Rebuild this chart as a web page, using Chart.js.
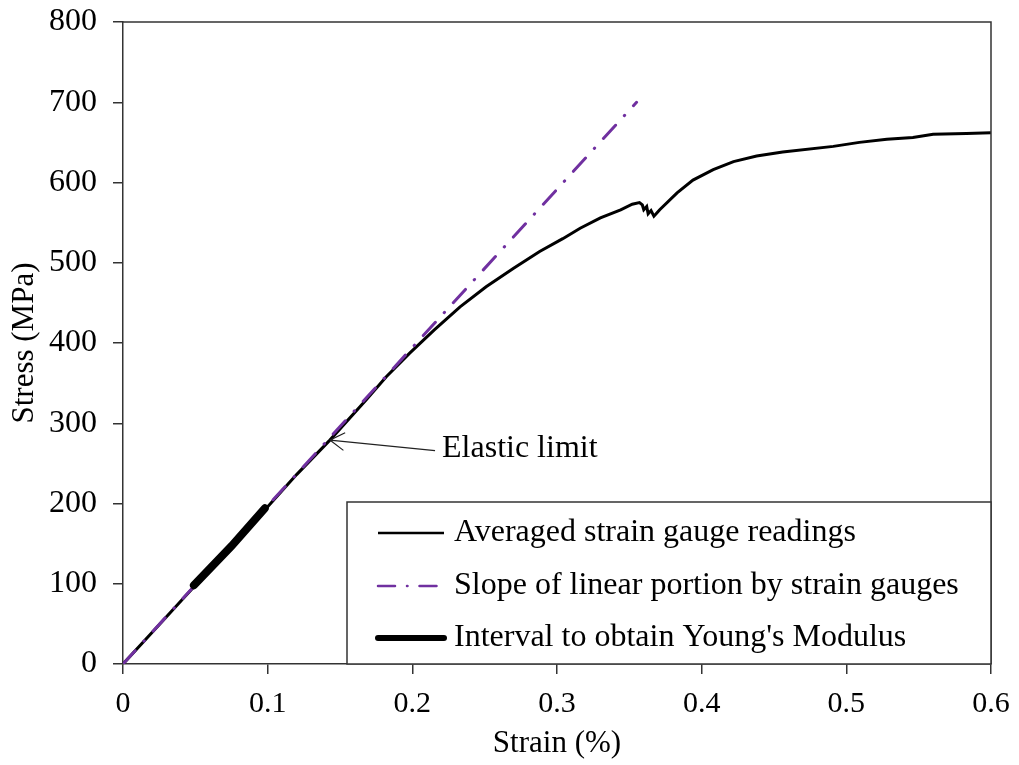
<!DOCTYPE html>
<html>
<head>
<meta charset="utf-8">
<script src="https://cdn.jsdelivr.net/npm/chart.js@4.4.3/dist/chart.umd.min.js"></script>
<style>
  html, body { margin: 0; padding: 0; background: #fff; }
  #wrap { width: 1019px; height: 765px; }
</style>
</head>
<body>
<div id="wrap"><canvas id="stressChart" width="1019" height="765"></canvas></div>
<script>
// strain (%) vs stress (MPa)
const avgStrain = [0, 0.025, 0.05, 0.075, 0.1, 0.12, 0.143, 0.168, 0.182, 0.198, 0.215, 0.233, 0.251, 0.270,
  0.288, 0.304, 0.316, 0.330, 0.344, 0.352, 0.357, 0.359, 0.360, 0.362, 0.363, 0.365, 0.367, 0.369, 0.371,
  0.383, 0.394, 0.408, 0.422, 0.438, 0.456, 0.491, 0.509, 0.528, 0.546, 0.560, 0.583, 0.600];
const avgStress = [0, 49, 98, 147, 196, 236, 279, 329, 358, 387, 416, 445, 470, 493,
  514, 530, 543, 556, 566, 573, 575, 572, 566, 570, 561, 565, 558, 562, 566,
  587, 603, 616, 626, 633, 638, 645, 650, 654, 656, 660, 661, 662];

const slopeStrain = [0, 0.355];
const slopeStress = [0, 700];

const youngStrain = [0.049, 0.075, 0.098];
const youngStress = [98, 147, 194];

const xTicks = [0, 0.1, 0.2, 0.3, 0.4, 0.5, 0.6];
const yTicks = [0, 100, 200, 300, 400, 500, 600, 700, 800];

const elasticLimit = { x: 0.143, y: 279, label: 'Elastic limit' };

const FONT = "'Liberation Serif', 'Times New Roman', serif";
const AXIS = '#333';

function pts(xs, ys) {
  return xs.map((x, i) => ({ x, y: ys[i] }));
}

// frame + arrow note + boxed legend
const extras = {
  id: 'extras',
  afterDraw(chart) {
    const { ctx, chartArea, scales } = chart;
    ctx.save();
    ctx.strokeStyle = AXIS;
    ctx.lineWidth = 1.5;
    ctx.beginPath();
    ctx.moveTo(chartArea.left, chartArea.top);
    ctx.lineTo(chartArea.right, chartArea.top);
    ctx.lineTo(chartArea.right, chartArea.bottom);
    ctx.stroke();

    // elastic limit arrow
    const tx = scales.x.getPixelForValue(elasticLimit.x);
    const ty = scales.y.getPixelForValue(elasticLimit.y);
    const lx = scales.x.getPixelForValue(0.2157);
    const ly = scales.y.getPixelForValue(266);
    ctx.strokeStyle = '#222';
    ctx.lineWidth = 1.2;
    ctx.beginPath();
    ctx.moveTo(lx, ly);
    ctx.lineTo(tx, ty);
    const ang = Math.atan2(ly - ty, lx - tx);
    for (const d of [-0.55, 0.55]) {
      ctx.moveTo(tx, ty);
      ctx.lineTo(tx + 17 * Math.cos(ang + d), ty + 17 * Math.sin(ang + d));
    }
    ctx.stroke();
    ctx.fillStyle = '#000';
    ctx.font = '32px ' + FONT;
    ctx.textBaseline = 'middle';
    ctx.textAlign = 'left';
    ctx.fillText(elasticLimit.label, lx + 7, ly - 2);

    // legend box
    const bx = chartArea.right - 644, by = chartArea.bottom - 162;
    ctx.fillStyle = '#fff';
    ctx.fillRect(bx, by, chartArea.right - bx, chartArea.bottom - by);
    ctx.strokeStyle = AXIS;
    ctx.lineWidth = 1.5;
    ctx.strokeRect(bx, by, chartArea.right - bx, chartArea.bottom - by);
    const rows = [31, 84, 136];
    chart.data.datasets.forEach((ds, i) => {
      const y = by + rows[i];
      ctx.beginPath();
      ctx.strokeStyle = ds.borderColor;
      ctx.lineWidth = ds.legendWidth;
      ctx.lineCap = ds.borderCapStyle || 'butt';
      ctx.setLineDash(ds.legendDash || []);
      ctx.moveTo(bx + 31, y);
      ctx.lineTo(bx + 97, y);
      ctx.stroke();
      ctx.setLineDash([]);
      ctx.fillStyle = '#000';
      ctx.font = '32px ' + FONT;
      ctx.textBaseline = 'middle';
      ctx.fillText(ds.label, bx + 107, y);
    });
    ctx.restore();
  }
};

new Chart(document.getElementById('stressChart'), {
  type: 'scatter',
  data: {
    datasets: [
      {
        label: 'Averaged strain gauge readings',
        data: pts(avgStrain, avgStress),
        showLine: true,
        borderColor: '#000',
        borderWidth: 3,
        legendWidth: 2.5,
        pointRadius: 0,
        order: 3
      },
      {
        label: 'Slope of linear portion by strain gauges',
        data: pts(slopeStrain, slopeStress),
        showLine: true,
        borderColor: '#7030a0',
        borderWidth: 3,
        legendWidth: 2.5,
        borderCapStyle: 'round',
        borderDash: [18, 13, 0.5, 13],
        legendDash: [17, 12, 0.5, 12],
        pointRadius: 0,
        order: 2
      },
      {
        label: "Interval to obtain Young's Modulus",
        data: pts(youngStrain, youngStress),
        showLine: true,
        borderColor: '#000',
        borderWidth: 8,
        legendWidth: 6,
        borderCapStyle: 'round',
        pointRadius: 0,
        order: 1
      }
    ]
  },
  options: {
    responsive: false,
    animation: false,
    layout: { padding: { top: 22, right: 28, left: 0, bottom: 0 } },
    plugins: {
      legend: { display: false },
      tooltip: { enabled: false }
    },
    scales: {
      x: {
        type: 'linear',
        min: 0,
        max: 0.6,
        afterBuildTicks: s => { s.ticks = xTicks.map(v => ({ value: v })); },
        afterFit: s => { s.height = 101; s.paddingLeft = 0; s.paddingRight = 0; },
        ticks: {
          color: '#000',
          font: { family: FONT, size: 30 },
          padding: 12,
          callback: v => String(Number(v.toFixed(1)))
        },
        grid: { drawOnChartArea: false, tickLength: 10, color: AXIS, lineWidth: 1.5 },
        border: { color: AXIS, width: 1.5 },
        title: {
          display: true,
          text: 'Strain (%)',
          color: '#000',
          font: { family: FONT, size: 31 },
          padding: { top: 0, bottom: 3 }
        }
      },
      y: {
        min: 0,
        max: 800,
        afterBuildTicks: s => { s.ticks = yTicks.map(v => ({ value: v })); },
        afterFit: s => { s.width = 123; s.paddingTop = 0; s.paddingBottom = 0; },
        ticks: {
          color: '#000',
          font: { family: FONT, size: 32 },
          padding: 16
        },
        grid: { drawOnChartArea: false, tickLength: 10, color: AXIS, lineWidth: 1.5 },
        border: { color: AXIS, width: 1.5 },
        title: {
          display: true,
          text: 'Stress (MPa)',
          color: '#000',
          font: { family: FONT, size: 31 },
          padding: { top: 6, bottom: 0 }
        }
      }
    }
  },
  plugins: [extras]
});
</script>
</body>
</html>
